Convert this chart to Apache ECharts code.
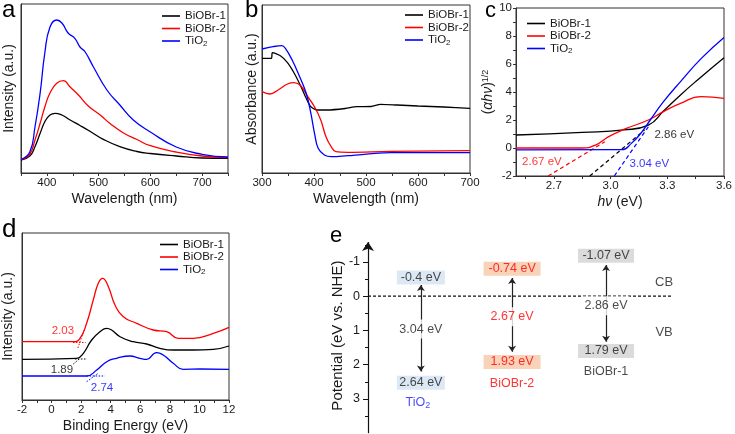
<!DOCTYPE html>
<html><head><meta charset="utf-8">
<script src="https://cdn.jsdelivr.net/npm/echarts@6/dist/echarts.min.js"></script>
<style>html,body{margin:0;padding:0;background:#fff}#c{width:735px;height:434px}</style>
</head><body><div id="c"></div>
<script>
// ---------- DATA ----------
const seriesNames = ['BiOBr-1', 'BiOBr-2', 'TiO2'];
// (a) PL spectra: [wavelength nm, intensity a.u.]
const aBiOBr1 = [[350,13],[367,17],[377,26.3],[387,39.7],[396,51.3],[406,58],[416,59.7],[429,58],[445,53],[464,47.5],[484,41.5],[509,33.7],[541,26.3],[574,21.5],[600,19.5],[650,17],[700,15],[750,14.7]];
const aBiOBr2 = [[350,13.5],[367,19],[377,33],[387,49.7],[396,66],[406,80],[419,89.7],[432,92.3],[445,86],[461,78],[480,67],[503,58],[522,49.5],[548,40],[574,33.5],[600,27.3],[650,21],[700,17],[750,15.3]];
const aTiO2 = [[350,13.7],[367,21],[377,46],[387,80],[396,120],[406,146],[419,153],[429,150],[441,140],[454,134.7],[464,126],[474,121],[490,106],[516,83],[541,68],[567,53],[600,41],[650,26],[700,18.7],[750,16]];
// (b) UV-vis absorbance
const bBiOBr1 = [[300,114.7],[318,114.7],[320,120.3],[336,117],[349,110.3],[362,99.7],[375,86.3],[385,74.7],[394,66.3],[407,63],[426,63],[460,64.5],[482,66.3],[510,66.5],[528,68.7],[560,68],[600,67],[650,66],[700,64.7]];
const bBiOBr2 = [[300,81.3],[315,79],[331,83],[349,89],[362,90.3],[375,87],[388,76.3],[401,66.3],[413,53],[423,36.3],[433,26.3],[442,21.3],[465,20.7],[548,21.7],[700,22.3]];
const bTiO2 = [[300,124],[321,126.3],[338,127.3],[345,124.7],[358,113],[371,98],[385,79.7],[394,59.7],[401,39.7],[408,24.7],[420,18],[433,16.3],[465,17.3],[548,20.3],[700,20.3]];
// (c) Tauc plot
const cBiOBr1 = [[2.5,0.93],[2.85,1.12],[3.07,1.29],[3.2,1.64],[3.28,2.64],[3.37,3.79],[3.46,4.86],[3.6,6.45]];
const cBiOBr2 = [[2.5,0],[2.85,0],[2.92,0.21],[2.99,0.81],[3.07,1.33],[3.2,2.0],[3.28,2.6],[3.37,3.19],[3.48,3.67],[3.6,3.55]];
const cTiO2 = [[2.5,-0.14],[3.06,-0.12],[3.11,0.33],[3.16,1.05],[3.21,2.0],[3.28,3.31],[3.37,4.74],[3.48,6.4],[3.6,7.9]];
const cTanBiOBr1 = [[2.89,-2],[3.18,1.29]];
const cTanBiOBr2 = [[2.67,-2],[2.97,0.45]];
const cTanTiO2 = [[3.02,-2],[3.2,1.52]];
const cNotes = [['2.86 eV', 3.337, 0.93, 'BiOBr-1'], ['2.67 eV', 2.637, -1.0, 'BiOBr-2'], ['3.04 eV', 3.205, -1.14, 'TiO2']];
// (d) VB-XPS
const dBiOBr1 = [[-2,40.7],[1.7,41.7],[2.15,46.7],[2.71,60],[3.27,68.3],[3.73,71.7],[4.06,70],[4.63,63.3],[5.53,58.3],[6.43,56],[7.33,51.7],[8.23,50],[9.58,50],[10.94,50.7],[12,54]];
const dBiOBr2 = [[-2,58.3],[1.47,58.3],[1.92,61.7],[2.37,76.7],[2.82,100],[3.16,116.7],[3.45,121.7],[3.84,113.3],[4.29,95],[4.85,83.3],[5.76,76.7],[6.88,70],[7.78,68.3],[8.57,61.7],[9.58,61.7],[10.94,66.7],[12,72.7]];
const dTiO2 = [[-2,24],[2.37,24],[3.05,30],[3.73,38.3],[4.4,41.7],[5.3,44],[5.98,41.7],[6.43,40.7],[7.1,47.3],[7.55,45],[8.23,36.7],[8.9,30.7],[10.03,31],[12,30.7]];
const dTangents = [
  ['BiOBr-1', [[1.58,41],[2.4,41]]], ['BiOBr-1', [[1.47,36],[1.95,42]]],
  ['BiOBr-2', [[1.45,57.5],[2.3,57.5]]], ['BiOBr-2', [[1.78,52],[2.2,70]]],
  ['TiO2', [[2.37,24],[3.6,24]]], ['TiO2', [[2.37,18.3],[3.16,26.7]]]
];
const dNotes = [['2.03', 0.77, 69, 'BiOBr-2'], ['1.89', 0.70, 30, 'BiOBr-1'], ['2.74', 3.41, 12, 'TiO2']];
// (e) band positions (eV vs NHE)
const eMaterials = ['TiO2', 'BiOBr-2', 'BiOBr-1'];
const eCB = [-0.4, -0.74, -1.07];
const eVB = [2.64, 1.93, 1.79];
const eGap = [3.04, 2.67, 2.86];
const eTicks = [-1, 0, 1, 2, 3];
const eMinorTicks = [-1.5, -0.5, 0.5, 1.5, 2.5, 3.5];

// ---------- LAYOUT / STYLE ----------
const FONT = "'Liberation Sans', Arial, sans-serif";
const INK = '#1a1a1a';
const COLORS = {'BiOBr-1': '#000000', 'BiOBr-2': '#ff0000', 'TiO2': '#0000ff'};
const eLayout = { // positions in axis units for panel e
  x: [17.4, 47.4, 78.3],
  boxCB: [-0.55, -0.80, -1.18], boxVB: [2.53, 1.92, 1.60],
  arrowTop: [-0.33, -0.53, -0.91], arrowBot: [2.20, 1.62, 1.33],
  gapY: [0.96, 0.60, 0.28], nameY: [3.11, 2.56, 2.21],
  boxW: [48, 57, 56],
  boxBg: ['#d3e3f3', '#f8c8a8', '#d2d2d2'],
  boxInk: [INK, '#ff0000', INK], nameInk: ['#1a1aff', '#ff0000', INK],
  yMin: -1.7, yMax: 4, axisTip: -1.58
};

function curve(name, data, gi, sm) {
  return {type: 'line', name, data, xAxisIndex: gi, yAxisIndex: gi, showSymbol: false, symbol: 'none',
    smooth: sm === undefined ? 0.5 : sm, color: COLORS[name], lineStyle: {width: 1.3, color: COLORS[name]}, silent: true, z: 3};
}
function guide(name, data, gi, dash, w) {
  return {type: 'line', name: '_g', data, xAxisIndex: gi, yAxisIndex: gi, showSymbol: false, symbol: 'none',
    color: COLORS[name], lineStyle: {width: w, color: COLORS[name], type: dash}, silent: true, z: 2};
}
function notes(list, gi, fs) {
  return {type: 'scatter', name: '_n', xAxisIndex: gi, yAxisIndex: gi, symbolSize: 1, itemStyle: {color: 'transparent'},
    data: list.map(n => ({value: [n[1], n[2]], t: n[0], label: {color: COLORS[n[3]]}})),
    label: {show: true, position: 'inside', fontSize: fs, fontFamily: FONT, formatter: p => p.data.t},
    silent: true, z: 5};
}
const richSub = {
  m: {fontSize: 11.5, lineHeight: 13, color: INK, fontFamily: FONT},
  s: {fontSize: 8, lineHeight: 13, verticalAlign: 'bottom', color: INK, fontFamily: FONT}
};
function legendAt(left, top) {
  return {orient: 'vertical', left, top, padding: 0, itemGap: 0.5, itemWidth: 18, itemHeight: 1.6, icon: 'rect',
    selectedMode: false, data: seriesNames,
    formatter: n => n === 'TiO2' ? '{m|TiO}{s|2}' : '{m|' + n + '}',
    textStyle: {fontFamily: FONT, color: INK, fontSize: 11.5, rich: richSub}};
}
const axisTxt = {fontSize: 11.5, color: INK, fontFamily: FONT};
const nameTxt = {fontSize: 14, color: INK, fontFamily: FONT};
function xAx(gi, o) {
  return Object.assign({type: 'value', gridIndex: gi, nameLocation: 'middle', nameGap: 19, nameTextStyle: nameTxt,
    axisLine: {show: true, onZero: false, lineStyle: {color: '#333', width: 1}},
    axisTick: {show: true, inside: false, length: 3, lineStyle: {color: '#333'}},
    splitLine: {show: false}, axisLabel: Object.assign({margin: 4}, axisTxt)}, o);
}
function yAx(gi, o) {
  return Object.assign({type: 'value', gridIndex: gi, nameLocation: 'middle', nameTextStyle: nameTxt,
    axisLine: {show: true, onZero: false, lineStyle: {color: '#333', width: 1}},
    axisTick: {show: false}, splitLine: {show: false}, axisLabel: {show: false}}, o);
}
const gridBox = {show: true, borderColor: '#333', borderWidth: 1, backgroundColor: 'transparent'};

const eIdx = 4;
const option = {
  animation: false,
  textStyle: {fontFamily: FONT},
  grid: [
    Object.assign({left: 21, top: 4, width: 207, height: 169}, gridBox),
    Object.assign({left: 262, top: 5, width: 208, height: 168}, gridBox),
    Object.assign({left: 516, top: 8, width: 209, height: 168}, gridBox),
    Object.assign({left: 22, top: 233, width: 207, height: 167}, gridBox),
    {left: 368, top: 238, width: 304, height: 195.2, show: false}
  ],
  legend: [legendAt(162, 10), legendAt(405, 9), legendAt(527, 17.5), legendAt(160, 238.5)],
  xAxis: [
    xAx(0, {min: 350, max: 750, interval: 50, name: 'Wavelength (nm)',
      axisLabel: Object.assign({margin: 4, formatter: v => (v % 100 === 0 ? String(v) : '')}, axisTxt)}),
    xAx(1, {min: 300, max: 700, interval: 50, name: 'Wavelength (nm)',
      axisLabel: Object.assign({margin: 4, formatter: v => (v % 100 === 0 ? String(v) : '')}, axisTxt)}),
    xAx(2, {min: 2.5, max: 3.6, name: '{i|hν} (eV)',
      nameTextStyle: Object.assign({rich: {i: {fontStyle: 'italic', fontSize: 14, color: INK, fontFamily: FONT}}}, nameTxt),
      axisLabel: Object.assign({margin: 4, customValues: [2.7, 3.0, 3.3, 3.6], formatter: v => v.toFixed(1)}, axisTxt),
      axisTick: {show: true, inside: false, length: 3, lineStyle: {color: '#333'}, customValues: [2.55, 2.7, 2.85, 3.0, 3.15, 3.3, 3.45, 3.6]}}),
    xAx(3, {min: -2, max: 12, interval: 1, name: 'Binding Energy (eV)',
      axisLabel: Object.assign({margin: 4, formatter: v => (Math.round(v) % 2 === 0 ? String(v) : '')}, axisTxt)}),
    {type: 'value', gridIndex: eIdx, min: 0, max: 100, show: false}
  ],
  yAxis: [
    yAx(0, {min: 0, max: 169, name: 'Intensity (a.u.)', nameGap: 5}),
    yAx(1, {min: 0, max: 168, name: 'Absorbance (a.u.)', nameGap: 3}),
    yAx(2, {min: -2, max: 10, interval: 1, nameGap: 16,
      name: '({i|αhν}){s|1/2}',
      nameTextStyle: Object.assign({rich: {
        i: {fontStyle: 'italic', fontSize: 14, color: INK, fontFamily: FONT},
        s: {fontSize: 9, verticalAlign: 'top', color: INK, fontFamily: FONT}}}, nameTxt),
      axisTick: {show: true, inside: false, length: 3, lineStyle: {color: '#333'}},
      axisLabel: Object.assign({show: true, margin: 4, formatter: v => (Math.round(v) % 2 === 0 ? String(v) : '')}, axisTxt)}),
    yAx(3, {min: 0, max: 167, name: 'Intensity (a.u.)', nameGap: 7}),
    {type: 'value', gridIndex: eIdx, inverse: true, min: eLayout.yMin, max: eLayout.yMax, position: 'left',
      name: 'Potential (eV vs. NHE)', nameLocation: 'middle', nameGap: 23,
      nameTextStyle: {fontSize: 15, color: INK, fontFamily: FONT},
      axisLine: {show: false},
      axisTick: {show: true, inside: false, length: 5, customValues: eTicks, lineStyle: {color: '#111'}},
      axisLabel: {show: true, customValues: eTicks, margin: 8, fontSize: 12.5, color: INK, fontFamily: FONT},
      splitLine: {show: false}},
    {type: 'value', gridIndex: eIdx, inverse: true, min: eLayout.yMin, max: eLayout.yMax, position: 'left',
      axisLine: {show: false}, axisLabel: {show: false}, splitLine: {show: false},
      axisTick: {show: true, inside: false, length: 3, customValues: eMinorTicks, lineStyle: {color: '#111'}}}
  ],
  graphic: [
    {type: 'text', x: 2, y: 10, style: {text: 'a', font: '24px ' + FONT, fill: '#000', verticalAlign: 'middle'}},
    {type: 'text', x: 245, y: 10, style: {text: 'b', font: '24px ' + FONT, fill: '#000', verticalAlign: 'middle'}},
    {type: 'text', x: 485, y: 11, style: {text: 'c', font: '22px ' + FONT, fill: '#000', verticalAlign: 'middle'}},
    {type: 'text', x: 2, y: 230, style: {text: 'd', font: '26px ' + FONT, fill: '#000', verticalAlign: 'middle'}},
    {type: 'text', x: 330, y: 236, style: {text: 'e', font: '22px ' + FONT, fill: '#000', verticalAlign: 'middle'}}
  ],
  series: []
};
const S = option.series;
S.push(curve('BiOBr-1', aBiOBr1, 0), curve('BiOBr-2', aBiOBr2, 0), curve('TiO2', aTiO2, 0));
S.push(curve('BiOBr-1', bBiOBr1, 1, 0.25), curve('BiOBr-2', bBiOBr2, 1, 0.4), curve('TiO2', bTiO2, 1, 0.4));
S.push(curve('BiOBr-1', cBiOBr1, 2), curve('BiOBr-2', cBiOBr2, 2), curve('TiO2', cTiO2, 2));
S.push(guide('BiOBr-1', cTanBiOBr1, 2, [4, 3], 1.2), guide('BiOBr-2', cTanBiOBr2, 2, [4, 3], 1.2), guide('TiO2', cTanTiO2, 2, [4, 3], 1.2));
S.push(curve('BiOBr-1', dBiOBr1, 3), curve('BiOBr-2', dBiOBr2, 3), curve('TiO2', dTiO2, 3));
dTangents.forEach(t => S.push(guide(t[0], t[1], 3, [1.5, 1.5], 1)));
S.push(notes(cNotes, 2, 11.5));
S.push(notes(dNotes, 3, 11.5));

// panel e
// vertical potential axis line with arrow head at the top
S.push({type: 'lines', coordinateSystem: 'cartesian2d', xAxisIndex: eIdx, yAxisIndex: eIdx, symbol: ['none', 'arrow'], symbolSize: 9,
  clip: false, lineStyle: {color: '#111', width: 1.2, opacity: 1}, silent: true, z: 2,
  data: [{coords: [[0, eLayout.yMax], [0, eLayout.axisTip]]}]});
S.push({type: 'line', name: '_zero', xAxisIndex: eIdx, yAxisIndex: eIdx, data: [[0, 0], [100, 0]], showSymbol: false, symbol: 'none',
  lineStyle: {color: '#111', width: 1.2, type: [3, 2]}, silent: true, z: 1});
S.push({type: 'lines', coordinateSystem: 'cartesian2d', xAxisIndex: eIdx, yAxisIndex: eIdx, symbol: ['arrow', 'arrow'], symbolSize: 6,
  lineStyle: {color: '#222', width: 1.2, opacity: 1}, silent: true, z: 2,
  data: eMaterials.map((m, i) => ({coords: [[eLayout.x[i], eLayout.arrowTop[i]], [eLayout.x[i], eLayout.arrowBot[i]]]}))});
function boxItems(vals, ys) {
  return eMaterials.map((m, i) => ({value: [eLayout.x[i], ys[i]],
    label: {formatter: vals[i] + ' eV', backgroundColor: eLayout.boxBg[i], color: eLayout.boxInk[i], width: eLayout.boxW[i]}}));
}
const eLabelBase = {show: true, position: 'inside', fontSize: 12.5, fontFamily: FONT, align: 'center', lineHeight: 13, padding: [1, 0, 0, 0]};
S.push({type: 'scatter', name: '_box', xAxisIndex: eIdx, yAxisIndex: eIdx, symbolSize: 1, itemStyle: {color: 'transparent'}, silent: true, z: 4,
  label: eLabelBase, data: boxItems(eCB, eLayout.boxCB).concat(boxItems(eVB, eLayout.boxVB))});
S.push({type: 'scatter', name: '_gap', xAxisIndex: eIdx, yAxisIndex: eIdx, symbolSize: 1, itemStyle: {color: 'transparent'}, silent: true, z: 4,
  label: {show: true, position: 'inside', fontSize: 12.5, fontFamily: FONT, backgroundColor: '#fff', padding: [3, 2]},
  data: eMaterials.map((m, i) => ({value: [eLayout.x[i], eLayout.gapY[i]],
    label: {formatter: eGap[i].toFixed(2) + ' eV', color: eLayout.boxInk[i]}}))});
S.push({type: 'scatter', name: '_name', xAxisIndex: eIdx, yAxisIndex: eIdx, symbolSize: 1, itemStyle: {color: 'transparent'}, silent: true, z: 4,
  label: {show: true, position: 'inside', fontSize: 12.5, fontFamily: FONT},
  data: eMaterials.map((m, i) => ({value: [eLayout.x[i] - (m === 'TiO2' ? 1 : 0), eLayout.nameY[i]],
    label: {formatter: m === 'TiO2' ? '{m|TiO}{s|2}' : m, color: eLayout.nameInk[i],
      rich: {m: {fontSize: 12.5, lineHeight: 14, color: eLayout.nameInk[i], fontFamily: FONT},
             s: {fontSize: 9, lineHeight: 14, verticalAlign: 'bottom', color: eLayout.nameInk[i], fontFamily: FONT}}}}))});
S.push({type: 'scatter', name: '_cbvb', xAxisIndex: eIdx, yAxisIndex: eIdx, symbolSize: 1, itemStyle: {color: 'transparent'}, silent: true, z: 4,
  label: {show: true, position: 'inside', fontSize: 13, fontFamily: FONT, color: INK, formatter: p => p.data.t},
  data: [{value: [97.4, -0.40], t: 'CB'}, {value: [97.4, 1.06], t: 'VB'}]});

const chart = echarts.init(document.getElementById('c'), null, {renderer: 'canvas'});
chart.setOption(option);
</script></body></html>
